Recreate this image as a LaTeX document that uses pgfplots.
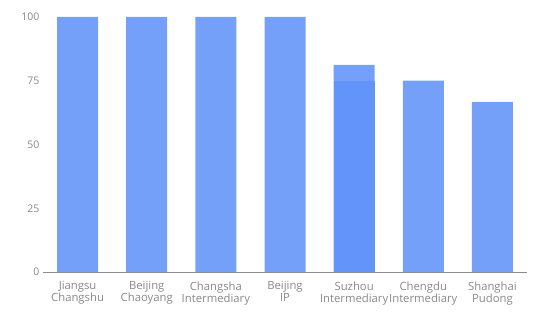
\documentclass[border=0pt]{standalone}
\usepackage{pgfplots}
\pgfplotsset{compat=1.18}
\usepackage{fontspec}
\setmainfont{Open Sans}
\definecolor{barc}{RGB}{116,160,250}
\definecolor{bard}{RGB}{98,148,250}
\definecolor{lblc}{RGB}{136,136,136}
\definecolor{axc}{RGB}{140,140,140}
\begin{document}
\begin{tikzpicture}
\path[use as bounding box] (0,0) rectangle (550bp,333bp);
\begin{axis}[
  at={(43bp,61bp)}, anchor=south west,
  scale only axis, width=484bp, height=255bp,
  xmin=-0.5, xmax=6.5, ymin=0, ymax=100,
  axis y line=none, axis x line*=bottom,
  x axis line style={draw=axc, line width=0.8pt, -},
  hide y axis=false,
  separate axis lines,
  y axis line style={draw=none},
  ytick={0,25,50,75,100},
  yticklabel style={font=\fontsize{10.5bp}{12bp}\selectfont, text=lblc, /pgf/number format/assume math mode=true},
  xtick={0,...,6},
  xticklabels={{Jiangsu\\Changshu},{Beijing\\Chaoyang},{Changsha\\Intermediary},{Beijing\\IP},{Suzhou\\Intermediary},{Chengdu\\Intermediary},{Shanghai\\Pudong}},
  xticklabel style={align=center, font=\fontsize{11.3bp}{12bp}\selectfont, text=lblc, yshift=-6bp},
  major tick length=0pt,
  tick style={draw=none},
  clip=false,
]
\addplot[ybar, bar width=41bp, bar shift=0pt, fill=barc, draw=none] coordinates {(0,100) (1,100) (2,100) (3,100) (4,81.25) (5,75) (6,66.67)};
\addplot[ybar, bar width=41bp, bar shift=0pt, fill=bard, draw=none] coordinates {(4,75)};
\end{axis}
\end{tikzpicture}
\end{document}
